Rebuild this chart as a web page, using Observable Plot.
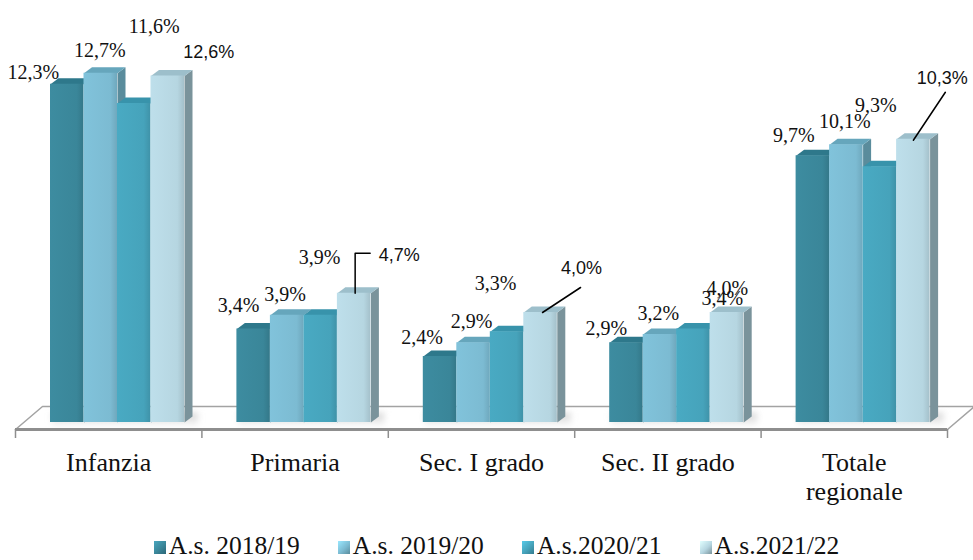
<!DOCTYPE html>
<html>
<head>
<meta charset="utf-8">
<script src="https://cdn.jsdelivr.net/npm/d3@7"></script>
<script src="https://cdn.jsdelivr.net/npm/@observablehq/plot@0.6"></script>
<style>
  body { margin: 0; background: #fff; }
  #chart { width: 973px; }
  #chart svg { display: block; }
  .legend { display: flex; justify-content: center; padding-left: 20px; padding-top: 11px;
    font-family: "Liberation Serif", "Times New Roman", serif; font-size: 25.5px; line-height: 25px; color: #111; }
  .legend .item { display: flex; align-items: baseline; margin: 0 19px; white-space: nowrap; }
  .legend .sw { display: inline-block; width: 12px; height: 13px; margin-right: 3px; }
</style>
</head>
<body>
<div id="chart"></div>
<script>
// ---------- data ----------
const categories = ["Infanzia", "Primaria", "Sec. I grado", "Sec. II grado", "Totale\nregionale"];
const seriesNames = ["A.s. 2018/19", "A.s. 2019/20", "A.s.2020/21", "A.s.2021/22"];
const as2018 = [12.3, 3.4, 2.4, 2.9, 9.7];
const as2019 = [12.7, 3.9, 2.9, 3.2, 10.1];
const as2020 = [11.6, 3.9, 3.3, 3.4, 9.3];
const as2021 = [12.6, 4.7, 4.0, 4.0, 10.3];
const seriesValues = [as2018, as2019, as2020, as2021];

// ---------- styling / layout ----------
const frontColors = ["#3a8699", "#7cbbd2", "#46a3bb", "#b6d6e1"];
const topColors   = ["#2e788b", "#66a6bc", "#3893ab", "#9dbfcb"];
const sideColors  = ["#2b6676", "#5a8c9c", "#347c8f", "#7a939b"];
// label offsets (px) from the front-top centre of each bar, per category, per series
const labelOffsets = [
  [[-34, -12], [-1, -23], [20, -76.5], [41, -23.5]],
  [[-15, -23.5], [-2, -21], [-1, -58], [45, -38]],
  [[-18, -19], [-2, -21], [-11.5, -48], [41, -44]],
  [[-20, -14], [-1.5, -21], [29, -30], [0.5, -24]],
  [[-19, -20], [-1.5, -23], [-4, -61], [29, -61]]
];
// which labels use the sans font
const sansLabel = [[0,0,0,1],[0,0,0,1],[0,0,0,1],[0,0,0,0],[0,0,0,1]];
// leader lines: [category, series, px offsets from bar top centre]
const leaders = [
  [1, 3, [[1, 0], [1, -40], [16, -40]]],
  [2, 3, [[2, 0], [40, -25]]],
  [4, 3, [[0, 1], [32, -47]]]
];

const X0 = 15, X1 = 947, BASE = 422, PXU = 27.5, N = categories.length;
const ux = px => px * N / (X1 - X0);
const uy = px => px / PXU;
const barW = ux(33.5), padL = ux(35), dX = ux(8), dY = uy(6);

const fmt = v => v.toFixed(1).replace(".", ",") + "%";

const bars = [];
seriesValues.forEach((vals, j) => vals.forEach((v, i) => {
  const x0 = i + padL + j * barW;
  bars.push({i, j, v, x0, x1: x0 + barW, cx: x0 + barW / 2});
}));

const marks = [];

// floor
const fl = uy(-7), bk = uy(16), dk = ux(27);
const floorPts = [[0, fl], [N, fl], [N + dk, bk], [dk, bk], [0, fl]].map(([x, y]) => ({x, y}));
marks.push(Plot.line(floorPts, {x: "x", y: "y", fill: "white", stroke: "#a3a3a3", strokeWidth: 1.5}));
// soft shadows behind each group
marks.push(Plot.rect(d3.range(N), {
  x1: i => i + padL + ux(2), x2: i => i + padL + 4 * barW + dX + ux(6),
  y1: uy(-3), y2: uy(9), fill: "url(#shadowGrad)"
}));
marks.push(Plot.ruleY([fl], {x1: 0, x2: N, stroke: "#8e8e8e", strokeWidth: 3}));
marks.push(Plot.ruleX(d3.range(N + 1), {x: d => d, y1: fl, y2: uy(-16), stroke: "#8e8e8e", strokeWidth: 1.5}));

// bars (side, top, front per series)
for (let j = 0; j < 4; j++) {
  const rows = bars.filter(b => b.j === j);
  const side = rows.flatMap(b => [[b.x1, 0], [b.x1, b.v], [b.x1 + dX, b.v + dY], [b.x1 + dX, dY]]
    .map(([x, y]) => ({x, y, id: b.i})));
  const top = rows.flatMap(b => [[b.x0, b.v], [b.x1, b.v], [b.x1 + dX, b.v + dY], [b.x0 + dX, b.v + dY]]
    .map(([x, y]) => ({x, y, id: b.i})));
  marks.push(Plot.line(side, {x: "x", y: "y", z: "id", fill: sideColors[j], stroke: "none"}));
  marks.push(Plot.line(top, {x: "x", y: "y", z: "id", fill: topColors[j], stroke: "none"}));
  marks.push(Plot.rect(rows, {x1: "x0", x2: "x1", y1: 0, y2: "v", fill: `url(#gf${j})`}));
}

// leader lines
const leaderPts = leaders.flatMap(([i, j, pts], k) => {
  const b = bars.find(d => d.i === i && d.j === j);
  return pts.map(([dx, dy]) => ({x: b.cx + ux(dx), y: b.v + uy(-dy), id: k}));
});
marks.push(Plot.line(leaderPts, {x: "x", y: "y", z: "id", stroke: "#000", strokeWidth: 1.5}));

// value labels
const labels = bars.map(b => ({
  x: b.cx + ux(labelOffsets[b.i][b.j][0]),
  y: b.v + uy(-labelOffsets[b.i][b.j][1]),
  text: fmt(b.v),
  sans: sansLabel[b.i][b.j] === 1
}));
marks.push(Plot.text(labels.filter(d => !d.sans), {x: "x", y: "y", text: "text",
  fontFamily: "Liberation Serif", fontSize: 20, fill: "#111"}));
marks.push(Plot.text(labels.filter(d => d.sans), {x: "x", y: "y", text: "text",
  fontFamily: "Liberation Sans", fontSize: 18, fill: "#111"}));

// category labels
marks.push(Plot.text(categories, {x: (d, i) => i + 0.5, y: 0, dy: 28, text: d => d,
  lineAnchor: "top", lineHeight: 1.12, fontFamily: "Liberation Serif", fontSize: 26, fill: "#111"}));

const plot = Plot.plot({
  width: 973, height: 522,
  marginTop: 0, marginBottom: 0, marginLeft: 0, marginRight: 0,
  x: {domain: [0, N], range: [X0, X1], axis: null},
  y: {domain: [0, 14], range: [BASE, BASE - 14 * PXU], axis: null},
  style: {background: "white", overflow: "visible"},
  marks
});

// gradients and shadow filter
const svg = d3.select(plot.tagName.toLowerCase() === "svg" ? plot : plot.querySelector("svg"));
const defs = svg.insert("defs", ":first-child");
defs.append("filter").attr("id", "blur").attr("x", "-30%").attr("y", "-100%").attr("width", "160%").attr("height", "300%")
  .append("feGaussianBlur").attr("stdDeviation", 3);
const sg = defs.append("linearGradient").attr("id", "shadowGrad").attr("x1", 0).attr("x2", 0).attr("y1", 0).attr("y2", 1);
sg.append("stop").attr("offset", "0%").attr("stop-color", "#c8c8c8").attr("stop-opacity", 0.9);
sg.append("stop").attr("offset", "100%").attr("stop-color", "#e6e6e6").attr("stop-opacity", 0.4);
svg.selectAll('[fill="url(#shadowGrad)"]').attr("filter", "url(#blur)");
frontColors.forEach((c, j) => {
  const g = defs.append("linearGradient").attr("id", "gf" + j).attr("x1", 0).attr("x2", 1).attr("y1", 0).attr("y2", 0);
  const base = d3.color(c);
  g.append("stop").attr("offset", "0%").attr("stop-color", base.brighter(0.12));
  g.append("stop").attr("offset", "80%").attr("stop-color", c);
  g.append("stop").attr("offset", "100%").attr("stop-color", base.darker(0.3));
});

document.getElementById("chart").appendChild(plot);

// legend
const legend = d3.select("#chart").append("div").attr("class", "legend");
seriesNames.forEach((name, j) => {
  const it = legend.append("div").attr("class", "item");
  it.append("span").attr("class", "sw")
    .style("background", `linear-gradient(135deg, ${d3.color(frontColors[j]).brighter(0.6)} 0%, ${frontColors[j]} 55%, ${sideColors[j]} 100%)`);
  it.append("span").text(name);
});
</script>
</body>
</html>
